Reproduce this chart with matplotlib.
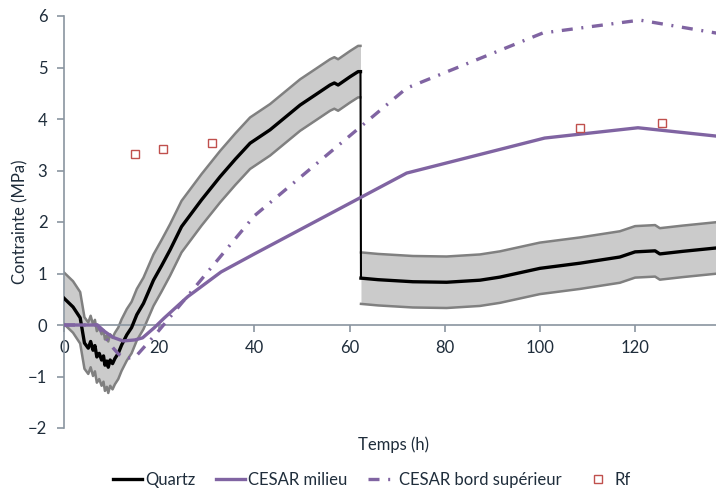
#!/usr/bin/env python3

import numpy as np
import matplotlib.pyplot as plt

# ==========================================================
# DATA
# ==========================================================

# Quartz measurement, before the drop
quartz_t1 = [0, 1.9, 3.4, 4.3, 5.1, 5.6, 6.1, 6.5, 6.9, 7.4, 7.9, 8.3, 8.6,
             9.0, 9.3, 9.7, 10.2, 10.7, 11.4, 12.1, 13.2, 14.2, 15.3, 16.7,
             18.8, 20.5, 22.3, 24.7, 26.8, 28.9, 32.8, 36.0, 39.1, 43.3,
             49.6, 53.0, 55.9, 56.8, 57.6, 60.1, 61.8, 62.3]
quartz_v1 = [0.52, 0.35, 0.14, -0.35, -0.45, -0.32, -0.49, -0.40, -0.62,
             -0.55, -0.68, -0.60, -0.78, -0.70, -0.82, -0.68, -0.75, -0.65,
             -0.55, -0.39, -0.19, -0.05, 0.20, 0.42, 0.87, 1.15, 1.46, 1.91,
             2.17, 2.43, 2.88, 3.22, 3.53, 3.79, 4.27, 4.48, 4.66, 4.70,
             4.66, 4.82, 4.92, 4.92]

# Quartz measurement, after the drop
quartz_t2 = [62.4, 66.0, 73.3, 80.4, 87.4, 91.6, 100.0, 108.4, 116.8, 120.0,
             124.2, 125.2, 130.0, 137.5]
quartz_v2 = [0.91, 0.88, 0.84, 0.83, 0.87, 0.93, 1.10, 1.20, 1.32, 1.42,
             1.44, 1.38, 1.43, 1.50]

quartz_err = 0.5

milieu_t = [0, 7, 8.6, 10.3, 12.4, 14.9, 16.5, 19, 21, 26, 33, 40, 72,
            101, 120.6, 144]
milieu_v = [0, 0, -0.13, -0.24, -0.31, -0.29, -0.25, -0.05, 0.13, 0.55,
            1.03, 1.38, 2.95, 3.63, 3.83, 3.60]

bord_t = [0, 7, 9.7, 11.4, 13, 15, 20, 40, 72, 100.6, 121, 144]
bord_v = [0, 0, -0.38, -0.56, -0.65, -0.62, -0.10, 2.12, 4.60, 5.67, 5.92,
          5.56]

rf_t = [14.9, 20.7, 31.0, 108.4, 125.6]
rf_v = [3.32, 3.42, 3.54, 3.83, 3.93]

# ==========================================================
# STYLE
# ==========================================================

plt.rcParams["font.family"] = ["Lato", "DejaVu Sans"]
plt.rcParams["font.size"] = 12

TXT = "#1f2d3b"
AXC = "#8a95a0"
PURPLE = "#8064a2"

# ==========================================================
# PLOT
# ==========================================================

fig = plt.figure(figsize=(7.16, 4.91), dpi=100)
ax = fig.add_axes([64/716, 1-428/491, (716-64)/716, (428-16)/491])

t1 = np.array(quartz_t1)
v1 = np.array(quartz_v1)
t2 = np.array(quartz_t2)
v2 = np.array(quartz_v2)

# error band
for tt, vv in [(t1, v1), (t2, v2)]:
    ax.fill_between(tt, vv-quartz_err, vv+quartz_err,
                    color="#cbcbcb", lw=0, zorder=1)
    ax.plot(tt, vv+quartz_err, color="#808080", lw=1.8, zorder=2)
    ax.plot(tt, vv-quartz_err, color="#808080", lw=1.8, zorder=2)

# quartz line, thin vertical drop between the two parts
ax.plot([t1[-1], t2[0]], [v1[-1], v2[0]], color="black", lw=1.5, zorder=3)
ax.plot(t1, v1, color="black", lw=2.4, zorder=3, label="Quartz")
ax.plot(t2, v2, color="black", lw=2.4, zorder=3)

ax.plot(milieu_t, milieu_v, color=PURPLE, lw=2.4, zorder=4,
        label="CESAR milieu")

ax.plot(bord_t, bord_v, color=PURPLE, lw=2.4, zorder=4,
        linestyle=(0, (3.3, 2.6, 0.6, 2.6)),
        label="CESAR bord supérieur")

ax.plot(rf_t, rf_v, linestyle="none", marker="s", markersize=6,
        markerfacecolor="white", markeredgecolor="#c0504d",
        markeredgewidth=1.0, zorder=5, label="Rf")

ax.set_xlim(0, 137)
ax.set_ylim(-2, 6)
ax.set_xticks(range(0, 121, 20))
ax.set_yticks(range(-2, 7))

ax.spines["top"].set_visible(False)
ax.spines["right"].set_visible(False)
ax.spines["bottom"].set_position(("data", 0))
ax.spines["bottom"].set_color(AXC)
ax.spines["left"].set_color(AXC)
ax.spines["bottom"].set_linewidth(1.2)
ax.spines["left"].set_linewidth(1.2)

ax.tick_params(axis="both", direction="out", length=5, width=1.2,
               color=AXC, labelcolor=TXT, labelsize=12)
ax.tick_params(axis="x", pad=6)
ax.tick_params(axis="y", pad=7)

fig.text(20/716, 1-222/491, "Contrainte (MPa)", rotation=90,
         ha="center", va="center", color=TXT, fontsize=12)
fig.text(394/716, 1-445/491, "Temps (h)",
         ha="center", va="center", color=TXT, fontsize=12)

fig.legend(loc="center", bbox_to_anchor=(372/716, 1-480/491),
           ncol=4, frameon=False, handlelength=1.75, handletextpad=0.15,
           columnspacing=1.25, fontsize=12, labelcolor=TXT)

fig.savefig("out.png", dpi=100)
